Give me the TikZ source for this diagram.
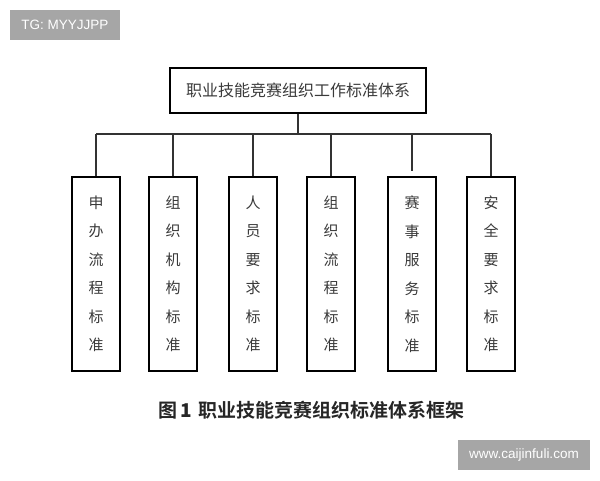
\documentclass[tikz,border=0pt]{standalone}
\usepackage{fontspec}
\setmainfont{Liberation Sans}
\newfontfamily\cjk{Noto Sans CJK SC}
\newfontfamily\cjkb{Noto Sans CJK SC Bold}
\definecolor{wm}{HTML}{A6A6A6}
\definecolor{txt}{HTML}{3A3A3A}
\tikzset{
  bx/.style={draw=black, line width=2pt, inner sep=0pt},
  conn/.style={draw=black!80, line width=1.7pt},
  vtext/.style={font=\cjk\fontsize{15}{28.5}\selectfont, text=txt, align=center},
  wmbox/.style={fill=wm, inner sep=0pt, text=white, font=\fontsize{13.5}{15}\selectfont}
}
\begin{document}
\begin{tikzpicture}[x=1pt,y=-1pt]
\useasboundingbox (0,0) rectangle (600,480);
\fill[white] (0,0) rectangle (600,480);
% watermarks
\node[wmbox, minimum width=110pt, minimum height=30pt] (tg) at (65,25) {TG: MYYJJPP};
\node[wmbox, minimum width=132pt, minimum height=30pt] (www) at (524,455) {www.caijinfuli.com};
% top box
\node[bx, minimum width=256pt, minimum height=45pt, font=\cjk\fontsize{16}{18}\selectfont, text=txt] (top) at (298,90.5) {职业技能竞赛组织工作标准体系};
% child boxes
\foreach \n/\x/\t in {a/96/申\\办\\流\\程\\标\\准, b/173/组\\织\\机\\构\\标\\准, c/253/人\\员\\要\\求\\标\\准, d/331/组\\织\\流\\程\\标\\准, e/412/赛\\事\\服\\务\\标\\准, f/491/安\\全\\要\\求\\标\\准}{
  \node[bx, minimum width=48pt, minimum height=194pt] (\n) at (\x,274) {};
  \node[vtext] (\n t) at (\x,274) {\t};
}
% connectors
\coordinate (j) at (298,134);
\draw[conn] (top.south) -- (j);
\draw[conn] (a.north |- j) -- (f.north |- j);
\foreach \n in {a,b,c,d,f}{\draw[conn] (\n.north |- j) -- (\n.north);}
\draw[conn] (e.north |- j) -- ++(0,37);
% caption
\node[font=\cjkb\fontsize{19}{20}\selectfont, text=black!85] (cap) at (311.5,410) {图\,\textbf{1}\,\,职业技能竞赛组织标准体系框架};
\end{tikzpicture}
\end{document}
